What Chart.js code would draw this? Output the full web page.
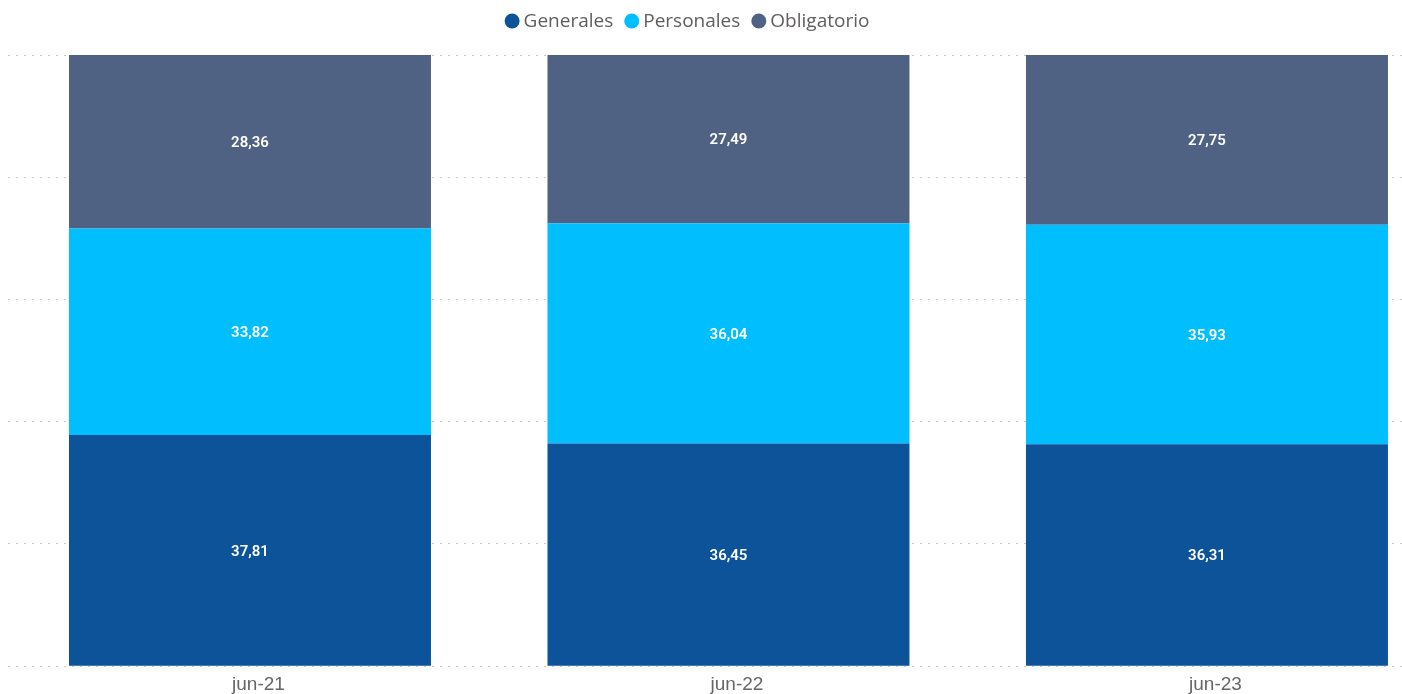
<!DOCTYPE html>
<html>
<head>
<meta charset="utf-8">
<script src="https://cdn.jsdelivr.net/npm/chart.js@4/dist/chart.umd.min.js"></script>
<style>
  html, body { margin: 0; padding: 0; background: #ffffff; }
  #wrap { position: relative; width: 1402px; height: 694px; }
</style>
</head>
<body>
<div id="wrap"><canvas id="c"></canvas></div>
<script>
const categories = ['jun-21', 'jun-22', 'jun-23'];
const seriesNames = ['Generales', 'Personales', 'Obligatorio'];
const generales = [37.81, 36.45, 36.31];
const personales = [33.82, 36.04, 35.93];
const obligatorio = [28.36, 27.49, 27.75];
const yTicks = [0, 20, 40, 60, 80, 100];
const colors = ['#0D5399', '#01BEFE', '#4F6283'];

const seriesValues = [generales, personales, obligatorio];

const fmt = v => v.toFixed(2).replace('.', ',');

const dataLabelPlugin = {
  id: 'dataLabels',
  afterDatasetsDraw(chart) {
    const ctx = chart.ctx;
    ctx.save();
    ctx.font = '600 15px Roboto, "DejaVu Sans", sans-serif';
    ctx.fillStyle = '#ffffff';
    ctx.textAlign = 'center';
    ctx.textBaseline = 'middle';
    chart.data.datasets.forEach((ds, di) => {
      const meta = chart.getDatasetMeta(di);
      meta.data.forEach((el, i) => {
        const p = el.getProps(['x', 'y', 'base'], true);
        ctx.fillText(fmt(seriesValues[di][i]), p.x, (p.y + p.base) / 2 + 1.5);
      });
    });
    ctx.restore();
  }
};

const legendPlugin = {
  id: 'customLegend',
  afterDraw(chart) {
    const ctx = chart.ctx;
    ctx.save();
    ctx.font = '19px "Open Sans", "Noto Sans", sans-serif';
    ctx.textBaseline = 'middle';
    const r = 7.5, gapText = 4, gapItem = 11;
    const widths = seriesNames.map(n => ctx.measureText(n).width);
    let total = 0;
    widths.forEach((w, i) => { total += 2 * r + gapText + w + (i < widths.length - 1 ? gapItem : 0); });
    let x = 687 - total / 2;
    const y = 21;
    seriesNames.forEach((n, i) => {
      ctx.fillStyle = colors[i];
      ctx.beginPath();
      ctx.arc(x + r, y, r, 0, Math.PI * 2);
      ctx.fill();
      ctx.fillStyle = '#605E5C';
      ctx.textAlign = 'left';
      ctx.fillText(n, x + 2 * r + gapText, y + 1);
      x += 2 * r + gapText + widths[i] + gapItem;
    });
    ctx.restore();
  }
};

new Chart(document.getElementById('c'), {
  type: 'bar',
  data: {
    datasets: seriesNames.map((name, di) => ({
      label: name,
      data: seriesValues[di].map((v, i) => ({ x: i, y: v })),
      backgroundColor: colors[di],
      borderWidth: 0,
      barPercentage: 0.7565,
      categoryPercentage: 1.0
    }))
  },
  options: {
    responsive: true,
    maintainAspectRatio: false,
    animation: false,
    layout: { padding: { top: 55, left: 8, right: 0, bottom: -9 } },
    plugins: {
      legend: { display: false },
      tooltip: { enabled: false }
    },
    scales: {
      x: {
        type: 'linear',
        offset: false,
        stacked: true,
        min: -0.5057,
        max: 2.4076,
        afterBuildTicks(scale) { scale.ticks = categories.map((c, i) => ({ value: i })); },
        ticks: {
          callback: (v) => categories[v] ?? '',
          font: { family: '"Liberation Sans", Arial, sans-serif', size: 19 },
          color: '#666666',
          padding: 7,
          labelOffset: 8.5,
          maxRotation: 0,
          autoSkip: false
        },
        grid: { display: false, drawTicks: false, offset: false },
        border: { display: false }
      },
      y: {
        stacked: true,
        min: 0,
        max: 100,
        afterBuildTicks(scale) { scale.ticks = yTicks.map(v => ({ value: v })); },
        ticks: { display: false },
        grid: { color: '#C8C8C8', lineWidth: 1, drawTicks: false },
        border: { display: false, dash: [2, 6] }
      }
    }
  },
  plugins: [dataLabelPlugin, legendPlugin]
});
</script>
</body>
</html>
